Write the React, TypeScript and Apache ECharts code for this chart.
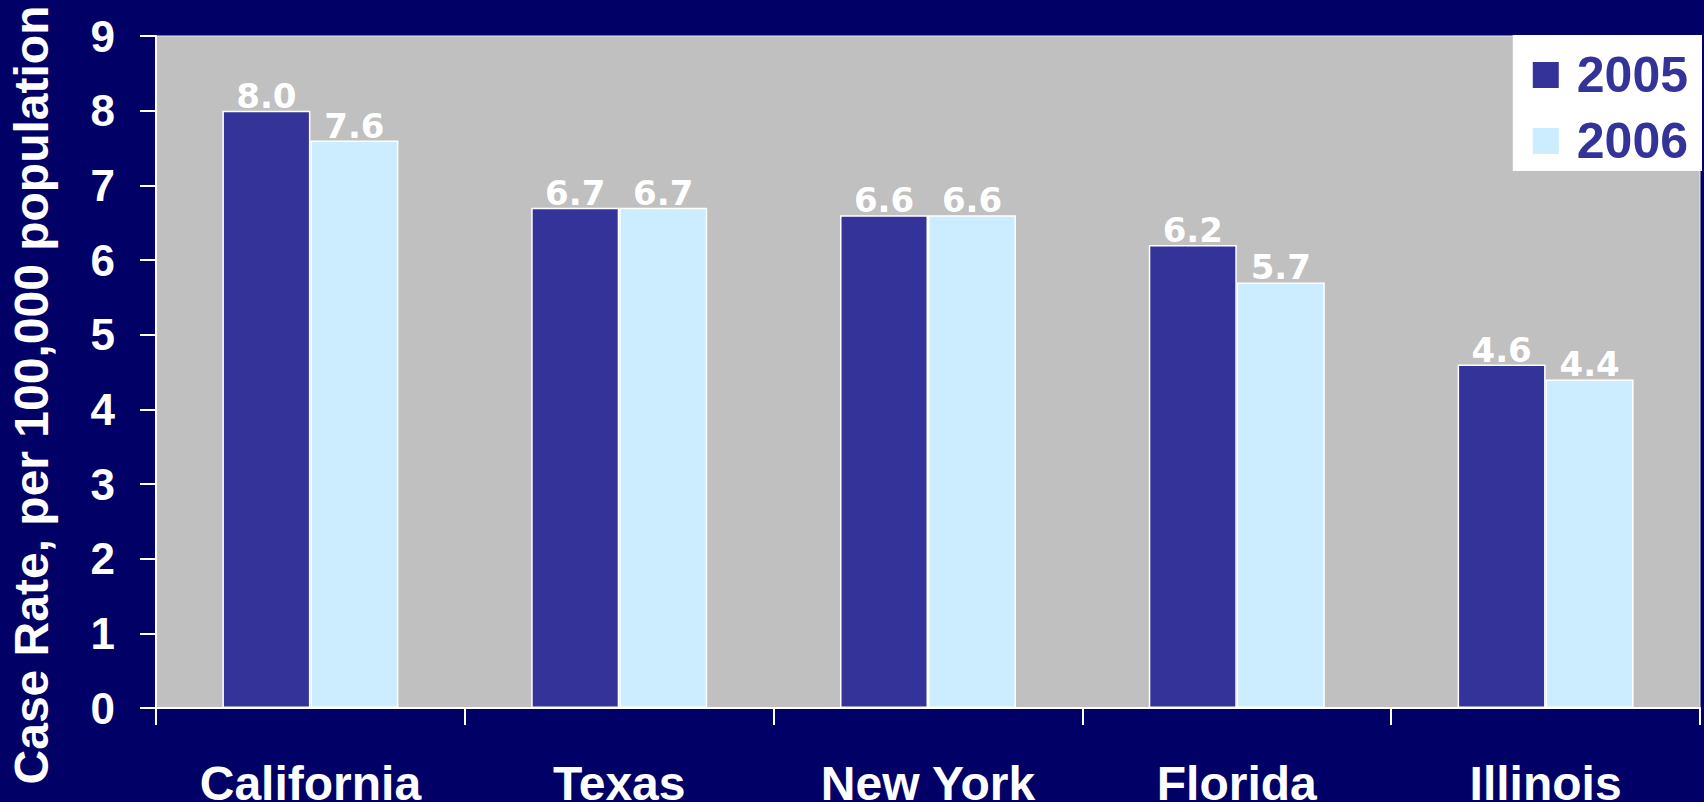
import React, { useEffect, useRef } from "react";
import * as echarts from "echarts";

const categories = ["California", "Texas", "New York", "Florida", "Illinois"];
const values2005 = [8.0, 6.7, 6.6, 6.2, 4.6];
const values2006 = [7.6, 6.7, 6.6, 5.7, 4.4];
const seriesNames = ["2005", "2006"];
const yAxisTitle = "Case Rate, per 100,000 population";

const NAVY = "#000066";
const DARK = "#333399";
const LIGHT = "#CCECFF";
const PLOT = "#C0C0C0";
const SANS = "'Liberation Sans', Arial, sans-serif";

export default function App() {
  const ref = useRef<HTMLDivElement>(null);

  useEffect(() => {
    if (!ref.current) return;
    const chart = echarts.init(ref.current, null, { renderer: "svg" });
    const label = {
      show: true,
      position: "top",
      distance: -2,
      color: "#FFFFFF",
      fontFamily: "'DejaVu Sans', Verdana, sans-serif",
      fontSize: 34,
      fontWeight: "bold",
      formatter: (p: any) => Number(p.value).toFixed(1),
    };
    chart.setOption({
      animation: false,
      backgroundColor: NAVY,
      grid: {
        left: 156,
        top: 36,
        right: 4,
        bottom: 94,
        containLabel: false,
        outerBoundsMode: "none",
        show: true,
        backgroundColor: PLOT,
        borderColor: "#E8E8F0",
        borderWidth: 1,
      },
      legend: {
        orient: "vertical",
        right: 2,
        top: 35,
        backgroundColor: "#FFFFFF",
        padding: [15, 14, 5, 18],
        itemGap: 16,
        itemWidth: 28,
        itemHeight: 28,
        icon: "rect",
        data: seriesNames,
        textStyle: {
          color: DARK,
          fontFamily: SANS,
          fontWeight: "bold",
          fontSize: 50,
          lineHeight: 50,
          padding: [0, 0, 0, 12],
        },
      },
      xAxis: {
        type: "category",
        data: categories,
        axisLine: { show: true, lineStyle: { color: "#FFFFFF", width: 2 } },
        axisTick: { show: true, length: 17, lineStyle: { color: "#FFFFFF", width: 2 } },
        axisLabel: {
          color: "#FFFFFF",
          fontFamily: SANS,
          fontWeight: "bold",
          fontSize: 48,
          margin: 51,
        },
        splitLine: { show: false },
      },
      yAxis: {
        type: "value",
        min: 0,
        max: 9,
        interval: 1,
        axisLine: { show: true, lineStyle: { color: "#FFFFFF", width: 2 } },
        axisTick: { show: true, length: 16, lineStyle: { color: "#FFFFFF", width: 2 } },
        axisLabel: {
          color: "#FFFFFF",
          fontFamily: SANS,
          fontWeight: "bold",
          fontSize: 44,
          margin: 41,
        },
        splitLine: { show: false },
      },
      graphic: [
        {
          type: "text",
          x: 31,
          y: 395,
          rotation: Math.PI / 2,
          style: {
            text: yAxisTitle,
            fill: "#FFFFFF",
            font: `bold 48px ${SANS}`,
            align: "center",
            verticalAlign: "middle",
          },
        },
      ],
      series: [
        {
          name: seriesNames[0],
          type: "bar",
          data: values2005,
          barWidth: 88,
          barGap: "0%",
          itemStyle: { color: DARK, borderColor: "#FFFFFF", borderWidth: 1.5 },
          label,
        },
        {
          name: seriesNames[1],
          type: "bar",
          data: values2006,
          barWidth: 88,
          barGap: "0%",
          itemStyle: { color: LIGHT, borderColor: "#FFFFFF", borderWidth: 1.5 },
          label,
        },
      ],
    });
    return () => chart.dispose();
  }, []);

  return (
    <div
      ref={ref}
      style={{ position: "fixed", left: 0, top: 0, width: 1704, height: 802 }}
    />
  );
}
